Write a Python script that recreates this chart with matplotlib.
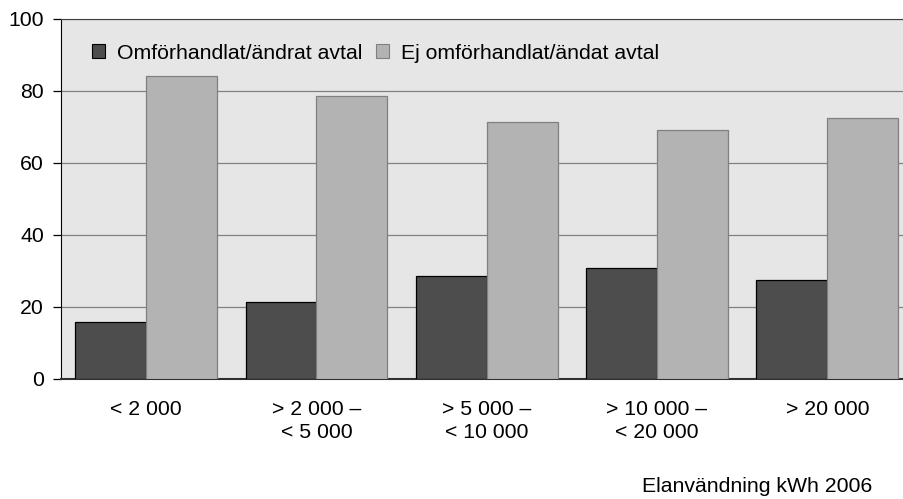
import numpy as np
import matplotlib.pyplot as plt
from matplotlib.patches import Patch

plt.rcParams['font.family'] = ['Liberation Sans', 'DejaVu Sans']

#Data
categories = ["< 2 000", "> 2 000 –\n< 5 000", "> 5 000 –\n< 10 000",
              "> 10 000 –\n< 20 000", "> 20 000"]
omforhandlat = [15.7, 21.5, 28.5, 30.7, 27.5]
ej_omforhandlat = [84.3, 78.5, 71.5, 69.3, 72.5]
series_names = ["Omförhandlat/ändrat avtal", "Ej omförhandlat/ändat avtal"]

dark = "#4d4d4d"
light = "#b3b3b3"
fs = 15.3

fig = plt.figure(figsize=(9.04, 4.99), dpi=100)
ax = fig.add_axes([60.7 / 904, 1 - 379 / 499, 1 - 60.7 / 904, 360 / 499])
ax.set_facecolor("#e6e6e6")

#Bars
x = np.arange(len(categories))
w = 0.416
ax.bar(x - w / 2, omforhandlat, w, color=dark, edgecolor="black", linewidth=0.9, zorder=3)
ax.bar(x + w / 2, ej_omforhandlat, w, color=light, edgecolor="#808080", linewidth=0.9, zorder=3)

#Axes
ax.set_xlim(-0.501, 4.45)
ax.set_ylim(0, 100)
ax.set_yticks([0, 20, 40, 60, 80, 100])
ax.yaxis.grid(True, color="#808080", linewidth=0.9, zorder=0)
ax.set_axisbelow(True)

ax.set_xticks(x)
ax.set_xticklabels(categories, fontsize=fs, linespacing=1.3)
ax.tick_params(axis="x", length=0, pad=15)
ax.tick_params(axis="y", length=6, width=0.9, labelsize=fs, pad=6)

ax.spines["right"].set_visible(False)
ax.spines["top"].set_color("#404040")
ax.spines["left"].set_color("black")
ax.spines["bottom"].set_color("#303030")
ax.spines["bottom"].set_linewidth(1.5)

#Legend
handles = [Patch(facecolor=dark, edgecolor="black", linewidth=0.8),
           Patch(facecolor=light, edgecolor="#808080", linewidth=0.8)]
ax.legend(handles, series_names, ncol=2, frameon=False, fontsize=fs,
          loc="center left", bbox_to_anchor=(0.0368, 0.9047), borderpad=0,
          borderaxespad=0, handlelength=0.63, handleheight=0.63,
          handletextpad=0.55, columnspacing=0.63)

fig.text(872 / 904, 1 - 487 / 499, "Elanvändning kWh 2006", fontsize=fs,
         ha="right", va="center")

fig.savefig("out.png", dpi=100)
